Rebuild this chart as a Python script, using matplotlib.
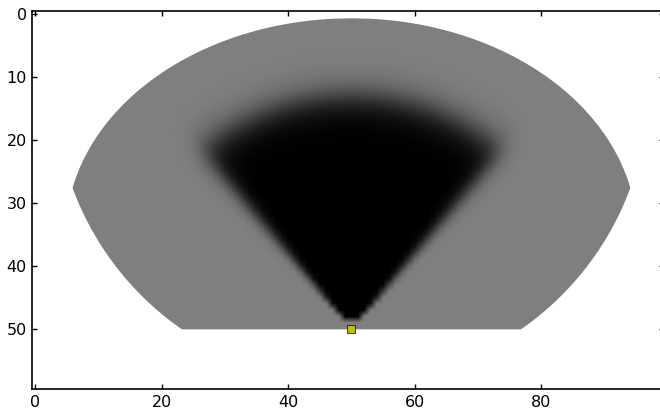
import numpy as np
import matplotlib
matplotlib.use("Agg")
import matplotlib.pyplot as plt
from matplotlib.patches import Polygon

# ---- data ----
n_cols, n_rows = 100, 60           # grid size (cells)
sensor_xy = (50, 50)               # sensor cell (yellow square)
upper_arc_center = (50, 35.0)      # upper bounding arc (elliptical)
upper_arc_semi_axes = (45.2, 34.3)
lower_arc_center = (50, 11.4)      # lower bounding arc (circular)
lower_arc_radius = 47.0
bottom_limit = 50.0                # region is cut at this row
prior_value = 0.5                  # grey (unknown)
free_value = 0.0                   # black (free)
free_range = 36.8                  # extent of the free cone
free_range_blur = 1.5
cone_half_angle = 40.0             # degrees
cone_angle_blur = 1.4              # degrees
min_range = 1.5
x_ticks = [0, 20, 40, 60, 80]
y_ticks = [0, 10, 20, 30, 40, 50]

# ---- field ----
yy, xx = np.mgrid[0:n_rows, 0:n_cols].astype(float)
dx = xx - sensor_xy[0]
dy = sensor_xy[1] - yy
r = np.hypot(dx, dy)
phi = np.degrees(np.abs(np.arctan2(dx, dy)))
s_r = 1.0 / (1.0 + np.exp((r - free_range) / free_range_blur))
s_phi = 1.0 / (1.0 + np.exp((phi - cone_half_angle) / cone_angle_blur))
w = s_r * s_phi * (r >= min_range)
field = prior_value + (free_value - prior_value) * w

# ---- clip region boundary ----
ea, eb = upper_arc_semi_axes
ys = np.linspace(upper_arc_center[1] - eb, bottom_limit, 800)
hA = ea * np.sqrt(np.clip(1 - ((ys - upper_arc_center[1]) / eb) ** 2, 0, None))
hA[ys > upper_arc_center[1]] = ea
hB = np.sqrt(np.clip(lower_arc_radius**2 - (ys - lower_arc_center[1])**2, 0, None))
half = np.minimum(hA, hB)
left = np.column_stack([sensor_xy[0] - half, ys])
right = np.column_stack([sensor_xy[0] + half, ys])[::-1]
verts = np.vstack([left, right])

fig = plt.figure(figsize=(6.6, 4.15), dpi=100)
ax = fig.add_axes([0.0489, 0.0619, 0.9576, 0.9123])
im = ax.imshow(field, cmap="gray", vmin=0, vmax=1, interpolation="bilinear",
               aspect="auto")
clip = Polygon(verts, closed=True, transform=ax.transData,
               facecolor="none", edgecolor="none")
im.set_clip_path(clip)
ax.plot([sensor_xy[0]], [sensor_xy[1]], "s", color=(0.75, 0.75, 0),
        mec="k", mew=0.5, ms=6)
ax.set_xlim(-0.5, n_cols - 0.5)
ax.set_ylim(n_rows - 0.5, -0.5)
ax.set_xticks(x_ticks)
ax.set_yticks(y_ticks)
ax.tick_params(direction="in", top=True, right=True, length=3.8, width=1,
               labelsize=11.5, pad=4)
for s in ax.spines.values():
    s.set_linewidth(1.2)
fig.savefig("out.png", dpi=100)
